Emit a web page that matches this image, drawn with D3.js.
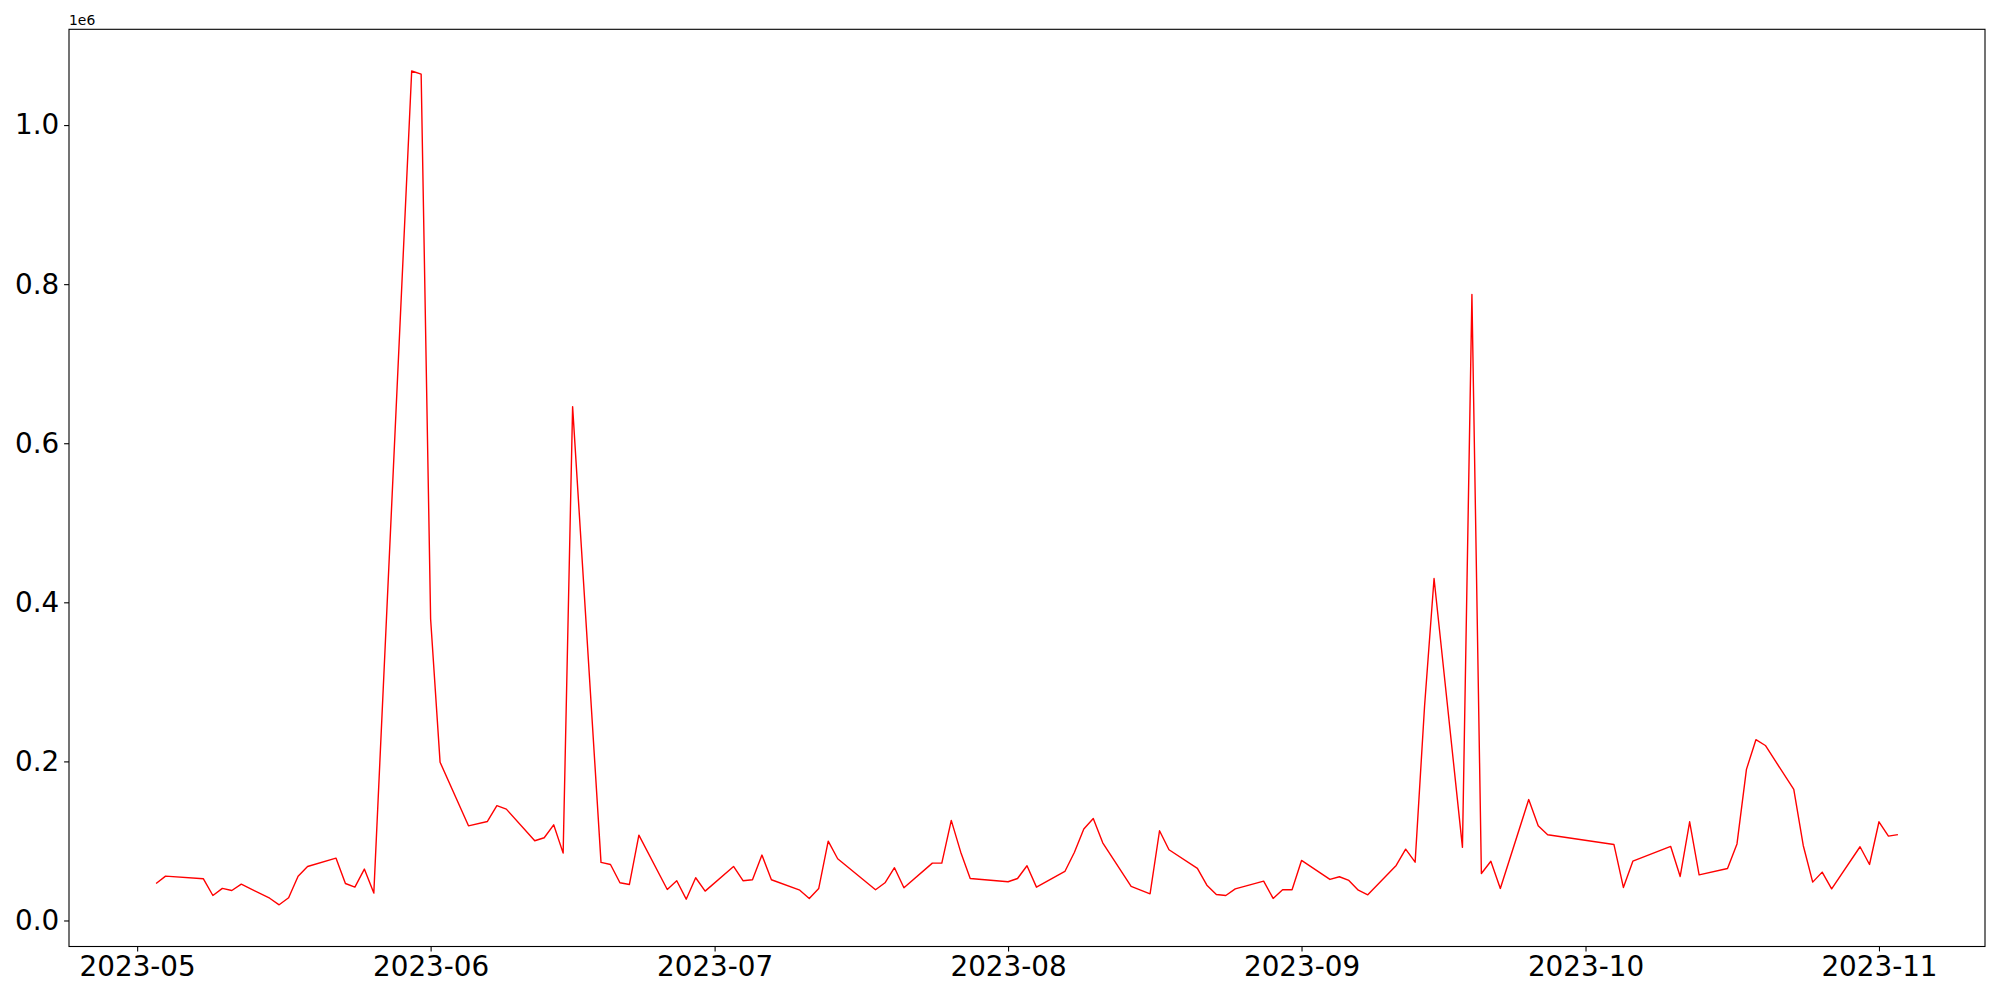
<!DOCTYPE html>
<html>
<head>
<meta charset="utf-8">
<script src="https://cdn.jsdelivr.net/npm/d3@7"></script>
<style>
  body { margin: 0; background: #fff; }
  .chart text { font-family: "DejaVu Sans", sans-serif; fill: #000; }
</style>
</head>
<body>
<div class="chart"></div>
<script>
// daily values
const dates = [
  "2023-05-03","2023-05-04","2023-05-08","2023-05-09","2023-05-10","2023-05-11","2023-05-12",
  "2023-05-15","2023-05-16","2023-05-17","2023-05-18","2023-05-19","2023-05-22","2023-05-23",
  "2023-05-24","2023-05-25","2023-05-26","2023-05-30","2023-05-31","2023-06-01","2023-06-02",
  "2023-06-05","2023-06-07","2023-06-08","2023-06-09","2023-06-12","2023-06-13","2023-06-14",
  "2023-06-15","2023-06-16","2023-06-19","2023-06-20","2023-06-21","2023-06-22","2023-06-23",
  "2023-06-26","2023-06-27","2023-06-28","2023-06-29","2023-06-30","2023-07-03","2023-07-04",
  "2023-07-05","2023-07-06","2023-07-07","2023-07-10","2023-07-11","2023-07-12","2023-07-13",
  "2023-07-14","2023-07-18","2023-07-19","2023-07-20","2023-07-21","2023-07-24","2023-07-25",
  "2023-07-26","2023-07-27","2023-07-28","2023-08-01","2023-08-02","2023-08-03","2023-08-04",
  "2023-08-07","2023-08-08","2023-08-09","2023-08-10","2023-08-11","2023-08-14","2023-08-16",
  "2023-08-17","2023-08-18","2023-08-21","2023-08-22","2023-08-23","2023-08-24","2023-08-25",
  "2023-08-28","2023-08-29","2023-08-30","2023-08-31","2023-09-01","2023-09-04","2023-09-05",
  "2023-09-06","2023-09-07","2023-09-08","2023-09-11","2023-09-12","2023-09-13","2023-09-14",
  "2023-09-15","2023-09-18","2023-09-19","2023-09-20","2023-09-21","2023-09-22","2023-09-25",
  "2023-09-26","2023-09-27","2023-10-04","2023-10-05","2023-10-06","2023-10-10","2023-10-11",
  "2023-10-12","2023-10-13","2023-10-16","2023-10-17","2023-10-18","2023-10-19","2023-10-20",
  "2023-10-23","2023-10-24","2023-10-25","2023-10-26","2023-10-27","2023-10-30","2023-10-31",
  "2023-11-01","2023-11-02","2023-11-03"
]
const values = [
  46500, 55700, 52400, 31400, 40300, 37700, 45700,
  28000, 19700, 28500, 55700, 67900, 78400, 46500,
  41900, 64600, 34400, 1068000, 1064000, 379000, 199000,
  119000, 124500, 144300, 140000, 100200, 104000, 120300,
  84700, 646000, 73000, 70400, 47400, 45300, 107300,
  39000, 50000, 26800, 53700, 36900, 67900, 50000,
  51200, 82200, 51200, 38100, 27700, 40300, 99800,
  77600, 38600, 47400, 66300, 41100, 72100, 72100,
  125800, 85900, 52800, 48700, 52800, 68800, 41900,
  61600, 85500, 114900, 128300, 97700, 42800, 33500,
  112800, 88900, 65400, 44400, 32700, 31400, 39800,
  49400, 27700, 38600, 38600, 75500, 51600, 55000,
  50300, 38100, 32300, 69200, 89700, 73300, 270000,
  430000, 92000, 787000, 59000, 74500, 40300, 152000,
  119000, 107800, 95600, 41500, 74600, 93100, 55300,
  124100, 57400, 65400, 96200, 190000, 227300, 220000,
  164800, 94300, 48200, 60800, 39800, 92700, 70400,
  124100, 106000, 108000
]
const xTickLabels = ["2023-05","2023-06","2023-07","2023-08","2023-09","2023-10","2023-11"]
const yTickValues = [0, 200000, 400000, 600000, 800000, 1000000]

const W = 2000, H = 1000
const margin = {top: 29.3, left: 69, right: 15, bottom: 53.5}
const width = W - margin.left - margin.right
const height = H - margin.top - margin.bottom

const parse = d3.timeParse("%Y-%m-%d")
const data = dates.map((d, i) => ({date: parse(d), value: values[i]}))

// matplotlib style 5% margins
const t0 = data[0].date.getTime(), t1 = data[data.length - 1].date.getTime()
const tPad = (t1 - t0) * 0.05
const vMin = d3.min(values), vMax = d3.max(values)
const vPad = (vMax - vMin) * 0.05

const xScale = d3.scaleTime()
  .domain([new Date(t0 - tPad), new Date(t1 + tPad)])
  .range([0, width])
const yScale = d3.scaleLinear()
  .domain([vMin - vPad, vMax + vPad])
  .range([height, 0])

const svg = d3.select(".chart").append("svg")
  .attr("width", W)
  .attr("height", H)
  .append("g")
  .attr("transform", `translate(${margin.left},${margin.top})`)

const line = d3.line()
  .x(d => xScale(d.date))
  .y(d => yScale(d.value))

svg.append("path")
  .datum(data)
  .attr("fill", "none")
  .attr("stroke", "#ff0000")
  .attr("stroke-width", 1.4)
  .attr("stroke-linejoin", "round")
  .attr("d", line)

const xTicks = xTickLabels.map(s => d3.timeParse("%Y-%m")(s))
const xAxis = svg.append("g")
  .attr("transform", `translate(0,${height})`)
  .call(d3.axisBottom(xScale)
    .tickValues(xTicks)
    .tickFormat(d3.timeFormat("%Y-%m"))
    .tickSize(4.9)
    .tickPadding(4.9))
xAxis.select(".domain").remove()
xAxis.selectAll("line").attr("stroke-width", 1.1)
xAxis.selectAll("text").attr("font-size", "27.8px").attr("font-family", "DejaVu Sans")

const yAxis = svg.append("g")
  .call(d3.axisLeft(yScale)
    .tickValues(yTickValues)
    .tickFormat(d => (d / 1e6).toFixed(1))
    .tickSize(4.9)
    .tickPadding(4.9))
yAxis.select(".domain").remove()
yAxis.selectAll("line").attr("stroke-width", 1.1)
yAxis.selectAll("text").attr("font-size", "27.8px").attr("font-family", "DejaVu Sans")

// frame
svg.append("rect")
  .attr("x", 0).attr("y", 0)
  .attr("width", width).attr("height", height)
  .attr("fill", "none")
  .attr("stroke", "#000")
  .attr("stroke-width", 1.1)

// offset text
svg.append("text")
  .attr("x", 0)
  .attr("y", -4)
  .attr("font-size", "13.9px")
  .text("1e6")
</script>
</body>
</html>
